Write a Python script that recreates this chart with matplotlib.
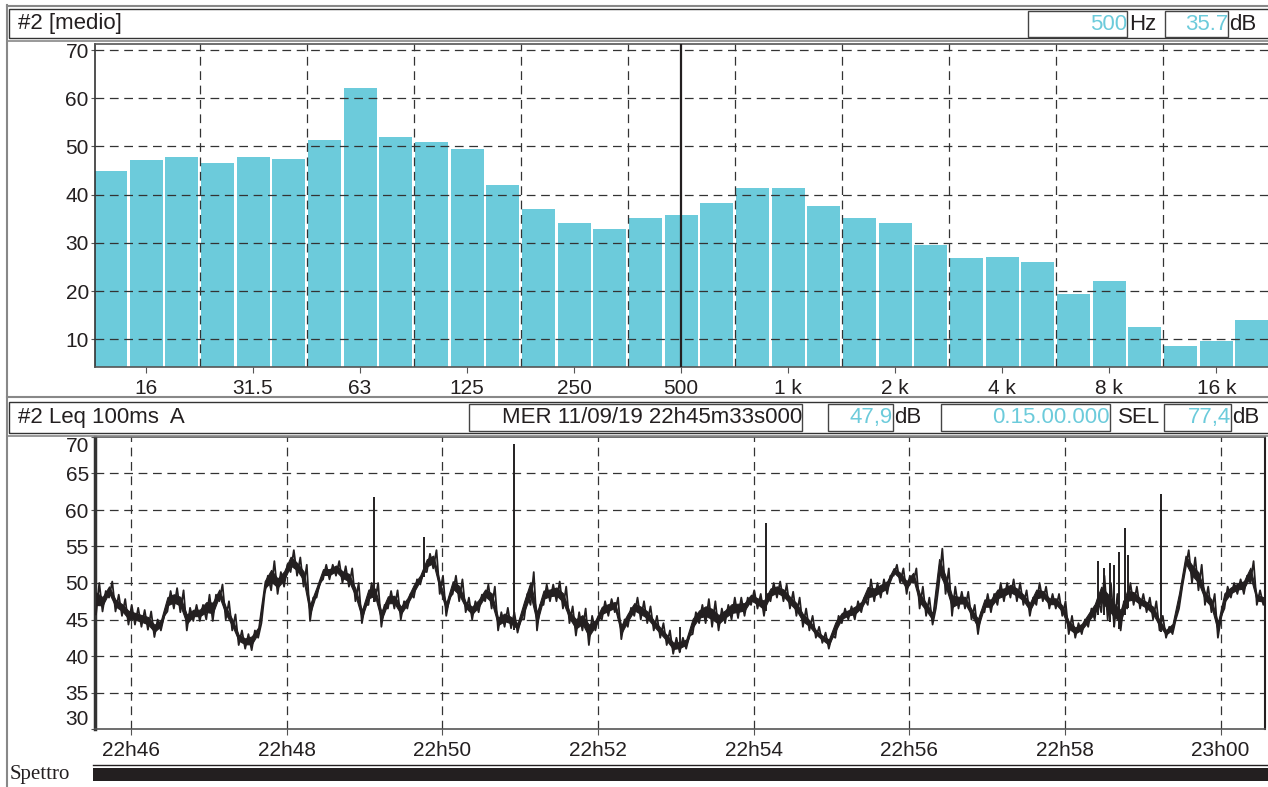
import numpy as np
import matplotlib.pyplot as plt
from matplotlib.patches import Rectangle
from matplotlib.lines import Line2D

plt.rcParams['font.family'] = ['Liberation Sans', 'DejaVu Sans']

# spettro medio in terzi d'ottava (dB)
bande = ['12.5', '16', '20', '25', '31.5', '40', '50', '63', '80', '100', '125',
         '160', '200', '250', '315', '400', '500', '630', '800', '1 k', '1.25 k',
         '1.6 k', '2 k', '2.5 k', '3.15 k', '4 k', '5 k', '6.3 k', '8 k', '10 k',
         '12.5 k', '16 k', '20 k']
livelli = [44.9, 47.2, 47.8, 46.6, 47.8, 47.4, 51.3, 62.1, 52.0, 50.9, 49.5,
           42.0, 37.0, 34.1, 32.9, 35.1, 35.7, 38.3, 41.4, 41.4, 37.6,
           35.1, 34.1, 29.5, 26.9, 27.1, 26.0, 19.4, 22.1, 12.5, 8.6,
           9.6, 14.0]
etichette_freq = ['16', '31.5', '63', '125', '250', '500', '1 k', '2 k', '4 k', '8 k', '16 k']
banda_cursore = '500'

# storia temporale Leq 100ms A, inizio 22h45m33s, campioni ogni 5 s (min / max)
inizio = 22 * 3600 + 45 * 60 + 33
durata = 900
t_s = np.arange(0, durata + 1, 5)
leq_min = [45.7, 46.1, 48.0, 46.1, 45.5, 44.3, 44.3, 44.0, 43.6, 42.6,
           43.5, 46.1, 46.5, 46.0, 43.5, 44.8, 44.8, 45.0, 44.8, 47.5,
           45.0, 43.5, 41.5, 41.0, 40.8, 42.5, 48.5, 49.0, 48.5, 49.5,
           51.5, 51.0, 49.5, 44.8, 48.0, 50.5, 50.5, 51.0, 50.0, 49.5,
           47.5, 44.5, 47.0, 47.5, 44.0, 46.5, 46.5, 45.0, 46.5, 48.0,
           49.8, 51.5, 52.0, 48.5, 45.5, 48.5, 47.5, 46.0, 45.0,
           46.0, 47.5, 46.5, 43.5, 44.0, 43.8, 43.2, 45.0, 47.0, 43.5,
           47.0, 47.5, 47.5, 46.5, 44.5, 42.8, 43.5, 41.5, 43.5, 45.0,
           45.5, 46.0, 42.3, 44.0, 45.5, 45.0, 44.5, 43.5, 42.5, 41.5,
           40.3, 40.5, 41.0, 43.0, 44.5, 44.5, 44.0, 43.5, 44.5, 45.0,
           45.2, 45.5, 47.0, 46.5, 45.5, 47.5, 48.0, 47.5, 46.5, 45.5,
           44.0, 43.5, 42.5, 41.8, 41.0, 42.5, 44.5, 45.0, 45.0, 46.0,
           47.0, 47.5, 48.0,
           48.5, 51.0, 50.0, 48.5, 50.0, 46.5, 45.5, 44.3, 50.0, 48.5,
           45.5, 46.5, 46.5, 45.0, 43.0, 46.0, 46.0, 47.0, 47.5, 48.0,
           47.5, 47.0, 45.5, 47.0, 47.5, 46.5, 46.5, 45.5, 43.0, 42.5,
           43.0, 44.0, 45.0, 46.0, 45.0, 44.0, 43.5, 46.5, 47.0, 46.5,
           46.0, 45.0, 43.5, 42.5, 43.0, 46.5, 52.0, 50.0, 49.0, 47.0,
           46.0, 42.5, 46.5, 48.0, 48.5, 48.5, 50.0, 47.0, 47.0]
leq_max = [50.0, 48.9, 50.2, 48.4, 47.8, 47.0, 46.6, 46.3, 46.1, 45.0,
           45.5, 48.9, 49.3, 49.0, 46.6, 47.0, 47.0, 48.4, 48.4, 49.8,
           47.5, 45.7, 43.5, 43.0, 43.5, 44.5, 51.0, 53.0, 51.5, 52.5,
           54.5, 53.5, 52.5, 48.0, 50.0, 52.5, 52.5, 53.0, 52.3, 52.0,
           50.0, 47.0, 50.0, 50.0, 47.0, 48.9, 49.0, 47.5, 48.5, 50.5,
           51.6, 54.0, 54.5, 51.0, 48.0, 51.0, 50.5, 48.0, 47.5,
           48.4, 49.8, 49.5, 46.0, 46.6, 46.0, 45.0, 48.5, 51.5, 47.0,
           49.8, 49.8, 50.2, 49.5, 46.8, 46.0, 46.5, 45.5, 45.5, 47.5,
           47.8, 48.0, 45.0, 46.6, 48.0, 47.5, 46.8, 45.5, 44.5, 43.5,
           42.5, 42.5, 42.8, 46.0, 47.0, 47.8, 47.5, 46.5, 47.0, 48.0,
           48.0, 48.0, 49.0, 48.5, 48.5, 50.0, 50.2, 49.8, 48.8, 48.0,
           46.5, 45.5, 44.0, 43.2, 42.8, 45.5, 46.5, 46.8, 47.5, 48.0,
           50.5, 50.0, 50.5,
           51.0, 52.5, 52.0, 51.0, 52.0, 49.5, 48.0, 46.5, 54.7, 52.0,
           49.5, 48.8, 48.8, 47.0, 46.0, 48.5, 48.5, 50.0, 50.0, 50.5,
           50.0, 49.0, 48.0, 50.0, 49.5, 48.5, 48.5, 47.5, 45.5, 44.5,
           45.0, 46.5, 48.0, 51.0, 50.0, 48.5, 47.5, 50.0, 49.5, 48.5,
           48.0, 47.5, 45.5, 44.0, 45.0, 49.5, 54.5, 53.5, 52.5, 49.5,
           48.5, 45.5, 49.5, 50.0, 50.5, 51.0, 53.0, 49.0, 48.5]
# eventi impulsivi (s dall'inizio, dB)
picchi_t = [214, 253, 322, 450, 516.6, 772.8, 777.2, 781.8, 785.2, 788.5, 793.6, 796, 821]
picchi_db = [61.8, 56.3, 69.1, 44.0, 58.2, 53.0, 52.0, 52.7, 52.5, 54.3, 57.6, 53.9, 62.2]
minuti_tick = [46, 48, 50, 52, 54, 56, 58, 60]

W, H = 1268, 787
ciano = '#6ccbdb'
scuro = '#231f20'

fig = plt.figure(figsize=(W / 100, H / 100), dpi=100)


def px_rect(x0, y0, x1, y1, **kw):
    fig.add_artist(Rectangle((x0 / W, 1 - y1 / H), (x1 - x0) / W, (y1 - y0) / H,
                             transform=fig.transFigure, **kw))


def px_line(xs, ys, **kw):
    fig.add_artist(Line2D([x / W for x in xs], [1 - y / H for y in ys],
                          transform=fig.transFigure, **kw))


def px_text(x, y, s, **kw):
    fig.text(x / W, 1 - y / H, s, va='center', **kw)


griglia = dict(color='#333333', lw=0.9, ls=(0, (7, 4.5)))

# --- pannello spettro ---
ax1 = fig.add_axes([95 / W, 1 - 367 / H, 1173 / W, 323 / H])
x = np.arange(len(bande))
ax1.bar(x, livelli, width=0.925, color=ciano, zorder=1)
ax1.set_xlim(-0.43, 32.45)
ax1.set_ylim(4.25, 71.25)
ax1.set_yticks(range(10, 71, 10))
for yv in range(10, 71, 10):
    ax1.axhline(yv, zorder=2, **griglia)
for xv in np.arange(2.5, 32, 3):
    ax1.axvline(xv, zorder=2, **griglia)
ax1.axvline(bande.index(banda_cursore), color=scuro, lw=1.6, zorder=3)
ax1.set_xticks([bande.index(b) for b in etichette_freq])
ax1.set_xticklabels(etichette_freq)

# --- pannello storia temporale ---
ax2 = fig.add_axes([95 / W, 1 - 729 / H, 1170 / W, 292 / H])
lo = np.array(leq_min)
hi = np.array(leq_max)
# nucleo pieno della traccia + oscillazione tra min e max
ax2.fill_between(t_s, lo + 0.3 * (hi - lo), hi - 0.3 * (hi - lo), color=scuro, lw=0.8, zorder=3)
tz = np.column_stack((t_s, t_s + 2.5)).ravel()
lz = np.column_stack((lo, hi)).ravel()
ax2.plot(tz, lz, color=scuro, lw=1.3, zorder=3)
base = np.interp(picchi_t, t_s, lo)
ax2.vlines(picchi_t, base, picchi_db, color=scuro, lw=1.4, zorder=3)
ax2.set_xlim(-0.8, 901.3)
ax2.set_ylim(30, 70)
ax2.set_yticks(range(30, 71, 5))
for yv in range(35, 70, 5):
    ax2.axhline(yv, zorder=2, **griglia)
tick_t = [m * 60 - (inizio - 22 * 3600) for m in minuti_tick]
for tv in tick_t:
    ax2.axvline(tv, zorder=2, **griglia)
ax2.set_xticks(tick_t)
ax2.set_xticklabels(['%dh%02d' % (22 + m // 60, m % 60) for m in minuti_tick])
ylab = ax2.get_yticklabels()
ylab[0].set_va('bottom')
ylab[-1].set_va('top')

for ax in (ax1, ax2):
    ax.tick_params(axis='both', labelsize=15, colors='#231f20', direction='out')
    ax.tick_params(axis='y', length=3, pad=1.5, color='#555555')
    ax.tick_params(axis='x', length=4, pad=5, color='#555555')
    for s in ax.spines.values():
        s.set_color('#555555')
        s.set_linewidth(1.2)
    ax.spines['left'].set_color('#333333')
ax1.spines['right'].set_visible(False)
ax2.spines['left'].set_linewidth(2.5)
ax2.spines['right'].set_color(scuro)
ax2.spines['right'].set_linewidth(1.5)

# --- cornici e intestazioni ---
px_line([7, 7], [5, 787], color='#888888', lw=1.5)
px_line([7, W], [6, 6], color='#888888', lw=1.5)
px_rect(9, 9, W + 2, 38, fill=False, ec='#333333', lw=1)
px_line([7, W], [41, 41], color='#888888', lw=1.2)
px_line([7, W], [397, 397], color='#888888', lw=1.5)
px_rect(9, 402, W + 2, 433, fill=False, ec='#333333', lw=1)
px_line([7, W], [436, 436], color='#888888', lw=1.2)

px_text(18, 24, '#2 [medio]', fontsize=16, color=scuro)
px_rect(1028, 11, 1127, 37, fill=False, ec='#444444', lw=1)
px_text(1127, 24, '500', fontsize=16, color=ciano, ha='right')
px_text(1129, 24, 'Hz', fontsize=16, color=scuro)
px_rect(1165, 11, 1228, 37, fill=False, ec='#444444', lw=1)
px_text(1228, 24, '%.1f' % livelli[bande.index(banda_cursore)], fontsize=16, color=ciano, ha='right')
px_text(1229, 24, 'dB', fontsize=16, color=scuro)

px_text(18, 418, '#2 Leq 100ms  A', fontsize=16, color=scuro)
px_rect(469, 404, 802, 431, fill=False, ec='#444444', lw=1)
px_text(802, 418, 'MER 11/09/19 22h45m33s000', fontsize=16, color=scuro, ha='right')
px_rect(828, 404, 893, 431, fill=False, ec='#444444', lw=1)
px_text(893, 418, '47,9', fontsize=16, color=ciano, ha='right')
px_text(894, 418, 'dB', fontsize=16, color=scuro)
px_rect(941, 404, 1110, 431, fill=False, ec='#444444', lw=1)
px_text(1110, 418, '0.15.00.000', fontsize=16, color=ciano, ha='right')
px_text(1118, 418, 'SEL', fontsize=16, color=scuro)
px_rect(1164, 404, 1231, 431, fill=False, ec='#444444', lw=1)
px_text(1231, 418, '77,4', fontsize=16, color=ciano, ha='right')
px_text(1232, 418, 'dB', fontsize=16, color=scuro)

# barra spettro in basso
px_line([93, W], [765, 765], color=scuro, lw=1)
px_rect(93, 768, W + 2, 781, color=scuro, lw=0)
px_text(10, 775, 'Spettro', fontsize=15, color=scuro, family=['Liberation Serif', 'DejaVu Serif'])

fig.savefig('out.png', dpi=100)
